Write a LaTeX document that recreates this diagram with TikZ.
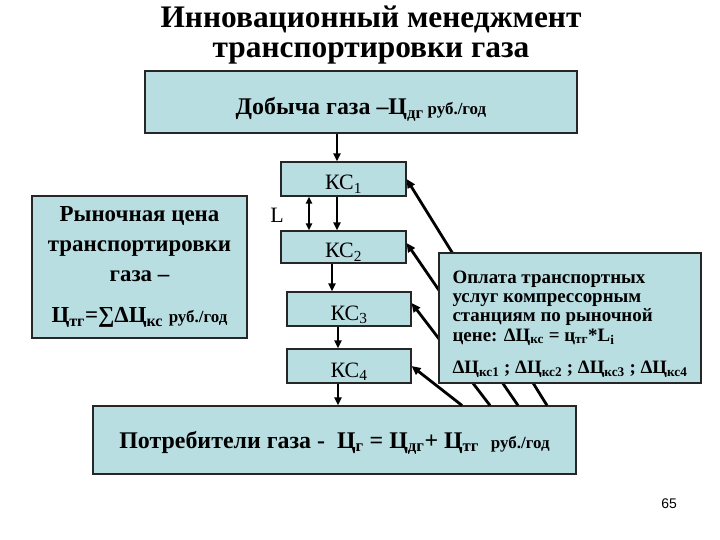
\documentclass[tikz,border=0pt]{standalone}
\usepackage{fontspec}
\setmainfont{Liberation Serif}
\newfontfamily\pgnumfont{Liberation Sans}
\usetikzlibrary{arrows.meta}
\definecolor{boxfill}{RGB}{185,222,226}
\newcommand\sbs[1]{\textsubscript{#1}}
\begin{document}
\begin{tikzpicture}[x=1bp,y=-1bp,
  box/.style={draw=black!85, line width=1.1bp, fill=boxfill, inner sep=0pt},
  arr/.style={-{Triangle[length=8bp,width=7bp]}, line width=2.4bp},
  dbl/.style={{Triangle[length=7bp,width=6bp]}-{Triangle[length=7bp,width=6bp]}, line width=2bp},
  diag/.style={-{Triangle[length=9bp,width=8bp]}, line width=2.8bp},
  kcfont/.style={font=\fontsize{22}{26}\selectfont},
  kcbox/.style={box, kcfont, text height=24bp, text depth=2bp}
  ]
\useasboundingbox (0,0) rectangle (720,540);

\node[font=\bfseries\fontsize{31.5}{30}\selectfont, align=center] (title) at (371,35) {Инновационный менеджмент\\транспортировки газа};

\node[box, minimum width=432bp, minimum height=62bp, text height=28bp, text depth=2bp, font=\bfseries\fontsize{24}{28}\selectfont] (top) at (361,102) {Добыча газа –Ц\sbs{дг}\,{\fontsize{17}{20}\selectfont руб./год}};

\node[kcbox, minimum width=125bp, minimum height=34bp] (kc1) at (343.5,179) {КС\sbs{1}};
\node[kcbox, minimum width=125bp, minimum height=32bp] (kc2) at (343.5,247) {КС\sbs{2}};
\node[kcbox, minimum width=124bp, minimum height=34bp] (kc3) at (349,309) {КС\sbs{3}};
\node[kcbox, minimum width=124bp, minimum height=34bp] (kc4) at (349,366) {КС\sbs{4}};

\node[box, minimum width=215bp, minimum height=142bp, align=center, font=\bfseries\fontsize{23}{30}\selectfont] (left) at (139.5,267) {Рыночная цена\\транспортировки\\газа –\\[12bp]Ц\sbs{тг}=∑ΔЦ\sbs{кс} {\fontsize{17}{20}\selectfont руб./год}};

\node[box, minimum width=483bp, minimum height=68bp, text height=20bp, text depth=4bp, font=\bfseries\fontsize{24}{28}\selectfont] (bot) at (334.5,440) {Потребители газа - \ Ц\sbs{г} = Ц\sbs{дг}+ Ц\sbs{тг} \ {\fontsize{17}{20}\selectfont руб./год}};

\node[kcfont] (L) at (277,215) {L};
\node[font=\pgnumfont\fontsize{14}{16}\selectfont] (pg) at (669,504) {65};

\coordinate (xa) at (337,0);
\coordinate (xb) at (332,0);
\coordinate (xc) at (338,0);
\coordinate (xd) at (309,0);
\draw[arr] (top.south -| xa) -- (kc1.north -| xa);
\draw[arr] (kc1.south -| xa) -- (kc2.north -| xa);
\draw[arr] (kc2.south -| xb) -- (kc3.north -| xb);
\draw[arr] (kc3.south -| xc) -- (kc4.north -| xc);
\draw[arr] (kc4.south -| xc) -- (bot.north -| xc);
\draw[dbl] (kc1.south -| xd) -- (kc2.north -| xd);

\coordinate (o1) at (547,0);
\coordinate (o2) at (518,0);
\coordinate (o3) at (490,0);
\coordinate (o4) at (462,0);
\draw[diag] (bot.north -| o1) -- (kc1.east);
\draw[diag] (bot.north -| o2) -- ([yshift=4bp]kc2.east);
\draw[diag] (bot.north -| o3) -- ([yshift=6bp]kc3.east);
\draw[diag] (bot.north -| o4) -- (kc4.east);

\node[box, minimum width=262bp, minimum height=130bp, align=left, font=\bfseries\fontsize{19}{19.5}\selectfont] (right) at (570,318) {\rule{0pt}{25bp}Оплата транспортных\\услуг компрессорным\\станциям по рыночной\\цене: ΔЦ\sbs{кс} = ц\sbs{тг}*L\sbs{i}\\[13bp]ΔЦ\sbs{кс1} ; ΔЦ\sbs{кс2} ; ΔЦ\sbs{кс3} ; ΔЦ\sbs{кс4}};
\end{tikzpicture}
\end{document}
